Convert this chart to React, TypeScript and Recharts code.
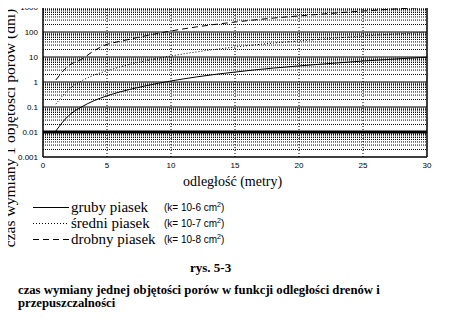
import { LineChart, Line, XAxis, YAxis, ReferenceLine } from 'recharts'

const distances = [1, 2, 3, 4, 5, 6, 8, 10, 12, 15, 18, 20, 22, 25, 28, 30]
const grubyPiasek = [0.011, 0.045, 0.1, 0.18, 0.28, 0.4, 0.7, 1.1, 1.6, 2.5, 3.6, 4.4, 5.3, 6.9, 8.6, 9.8]
const sredniPiasek = [0.13, 0.5, 1.1, 1.9, 2.8, 4, 7, 11, 16, 25, 36, 44, 53, 69, 86, 99]
const drobnyPiasek = [1.2, 4.5, 8, 18, 32, 42, 70, 110, 160, 250, 360, 440, 530, 690, 860, 980]

const xTicks = [0, 5, 10, 15, 20, 25, 30]
const yTicks = [0.001, 0.01, 0.1, 1, 10, 100, 1000]
const yTickLabels = ['0.001', '0.01', '0.1', '1', '10', '100', '1000']
const decadeLines = [0.01, 0.1, 1, 10, 100]
const minorLines = [0.001, 0.01, 0.1, 1, 10, 100].flatMap(d => [2, 3, 4, 5, 6, 7, 8, 9].map(m => +(d * m).toPrecision(3)))
const verticalLines = [5, 10, 15, 20, 25]

const legend = [
  { name: 'gruby piasek', k: '-6', dash: undefined as string | undefined },
  { name: 'średni piasek', k: '-7', dash: '1 2' },
  { name: 'drobny piasek', k: '-8', dash: '6 4' },
]

const data = distances.map((x, i) => ({
  x,
  gruby: grubyPiasek[i],
  sredni: sredniPiasek[i],
  drobny: drobnyPiasek[i],
}))

const serif = '"Liberation Serif", "Times New Roman", "DejaVu Serif", serif'
const sans = '"Liberation Sans", Arial, sans-serif'

export default function App() {
  return (
    <div style={{ position: 'relative', width: 451, height: 329, margin: -8, background: '#fff', color: '#000' }}>
      <div style={{ position: 'absolute', left: 0, top: 0 }}>
        <LineChart width={451} height={177} data={data} margin={{ top: 7, right: 24, bottom: 0, left: 0 }}>
          <XAxis
            dataKey="x"
            type="number"
            domain={[0, 30]}
            ticks={xTicks}
            tickLine={false}
            axisLine={false}
            tickSize={0}
            tickMargin={5}
            height={20}
            tick={{ fontSize: 8, fill: '#000', fontFamily: sans }}
          />
          <YAxis
            scale="log"
            domain={[0.001, 1000]}
            ticks={yTicks}
            allowDataOverflow
            tickLine={false}
            axisLine={false}
            tickSize={0}
            tickMargin={5}
            width={43}
            tickFormatter={(v: number) => yTickLabels[yTicks.indexOf(v)] ?? String(v)}
            tick={{ fontSize: 8, fill: '#000', fontFamily: sans }}
          />
          {minorLines.map(v => (
            <ReferenceLine key={'m' + v} y={v} stroke="#000" strokeDasharray="1 1" strokeWidth={1} />
          ))}
          {verticalLines.map(v => (
            <ReferenceLine key={'v' + v} x={v} stroke="#000" strokeDasharray="1 2" strokeWidth={1} />
          ))}
          {decadeLines.map(v => (
            <ReferenceLine key={'d' + v} y={v} stroke="#000" strokeWidth={v === 0.01 ? 3 : 1.2} />
          ))}
          <ReferenceLine y={1000} stroke="#000" strokeWidth={1.5} />
          <ReferenceLine y={0.001} stroke="#000" strokeWidth={1.5} />
          <ReferenceLine x={0} stroke="#000" strokeWidth={1.5} />
          <ReferenceLine x={30} stroke="#000" strokeWidth={1.5} />
          <Line type="monotone" dataKey="gruby" stroke="#000" strokeWidth={1} dot={false} isAnimationActive={false} />
          <Line type="monotone" dataKey="sredni" stroke="#000" strokeWidth={1} strokeDasharray="1 2" dot={false} isAnimationActive={false} />
          <Line type="monotone" dataKey="drobny" stroke="#000" strokeWidth={1} strokeDasharray="6 4" dot={false} isAnimationActive={false} />
        </LineChart>
      </div>

      <div
        style={{
          position: 'absolute', left: 10, top: 128, fontFamily: serif, fontSize: 15.6,
          whiteSpace: 'nowrap', transform: 'translate(-50%, -50%) rotate(-90deg)',
        }}
      >
        czas wymiany 1 objętości porów (dni)
      </div>

      <div style={{ position: 'absolute', left: 183, top: 174, fontFamily: serif, fontSize: 14, whiteSpace: 'nowrap' }}>
        odległość (metry)
      </div>

      {legend.map((row, i) => (
        <div key={row.name} style={{ position: 'absolute', left: 33, top: 199 + i * 16, height: 16, display: 'flex', alignItems: 'center', whiteSpace: 'nowrap' }}>
          <svg width={36} height={16}>
            <line x1={0} y1={8.5} x2={36} y2={8.5} stroke="#000" strokeWidth={1} strokeDasharray={row.dash} />
          </svg>
          <span style={{ fontFamily: serif, fontSize: 15, marginLeft: 2, width: 93 }}>{row.name}</span>
          <span style={{ fontFamily: sans, fontSize: 10 }}>
            (k= 10{row.k} cm<sup style={{ fontSize: 7 }}>2</sup>)
          </span>
        </div>
      ))}

      <div style={{ position: 'absolute', left: 190, top: 260, fontFamily: serif, fontSize: 13, fontWeight: 'bold', whiteSpace: 'nowrap' }}>
        rys. 5-3
      </div>
      <div style={{ position: 'absolute', left: 18, top: 284, width: 425, fontFamily: serif, fontSize: 12.7, fontWeight: 'bold', lineHeight: '13px' }}>
        czas wymiany jednej objętości porów w funkcji odległości drenów i przepuszczalności
      </div>
    </div>
  )
}
